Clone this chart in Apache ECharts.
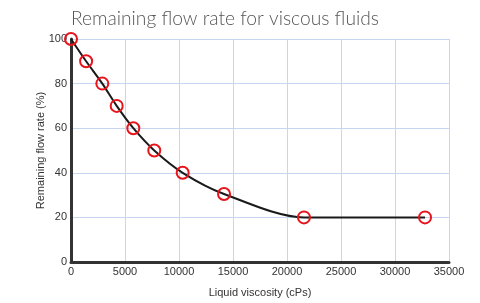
<!DOCTYPE html>
<html>
<head>
<meta charset="utf-8">
<script src="https://cdn.jsdelivr.net/npm/echarts@6/dist/echarts.min.js"></script>
<style>
  html, body { margin: 0; padding: 0; background: #fff; }
  #main { width: 480px; height: 303px; }
</style>
</head>
<body>
<div id="main"></div>
<script>
// viscosity (cPs) and remaining flow (%)
var viscosity = [0, 1400, 2900, 4230, 5770, 7710, 10340, 14170, 21570, 32780]
var flowRate = [100, 90, 80, 70, 60, 50, 40, 30.5, 20, 20]
var xTicks = [0, 35000, 5000]   // min, max, step
var yTicks = [0, 100, 20]

var chart = echarts.init(document.getElementById('main'))

var points = viscosity.map(function (v, i) {
  return [v, flowRate[i]]
})

var labelStyle = { fontFamily: 'Liberation Sans', fontSize: 11, color: '#333' }

var option = {
  animation: false,
  backgroundColor: '#fff',
  title: {
    text: 'Remaining flow rate for viscous fluids',
    left: 66,
    top: 4,
    textStyle: {
      fontFamily: 'Lato',
      fontWeight: 300,
      fontSize: 19.2,
      color: '#555'
    }
  },
  grid: {
    left: 71,
    right: 31,
    top: 39,
    bottom: 40
  },
  xAxis: {
    type: 'value',
    min: xTicks[0],
    max: xTicks[1],
    interval: xTicks[2],
    name: 'Liquid viscosity (cPs)',
    nameLocation: 'middle',
    nameGap: 25,
    nameTextStyle: labelStyle,
    axisLine: { lineStyle: { color: '#333', width: 3 } },
    axisTick: { show: false },
    axisLabel: Object.assign({
      margin: 4,
      formatter: function (v) { return String(v) }
    }, labelStyle),
    splitLine: { lineStyle: { color: '#c6d6ef', width: 1 } }
  },
  yAxis: {
    type: 'value',
    min: yTicks[0],
    max: yTicks[1],
    interval: yTicks[2],
    name: 'Remaining flow rate (%)',
    nameLocation: 'middle',
    nameGap: 25,
    nameMoveOverlap: false,
    nameTextStyle: labelStyle,
    axisLine: { show: true, lineStyle: { color: '#333', width: 3 } },
    axisTick: { show: false },
    axisLabel: Object.assign({ margin: 4 }, labelStyle),
    splitLine: { lineStyle: { color: '#c6d6ef', width: 1 } }
  },
  series: [{
    type: 'line',
    data: points,
    smooth: 0.3,
    symbol: 'circle',
    symbolSize: 12,
    lineStyle: { color: '#1a1a1a', width: 2 },
    itemStyle: {
      color: 'rgba(0,0,0,0)',
      borderColor: '#e8141c',
      borderWidth: 2
    },
    z: 3
  }]
}

chart.setOption(option)
</script>
</body>
</html>
